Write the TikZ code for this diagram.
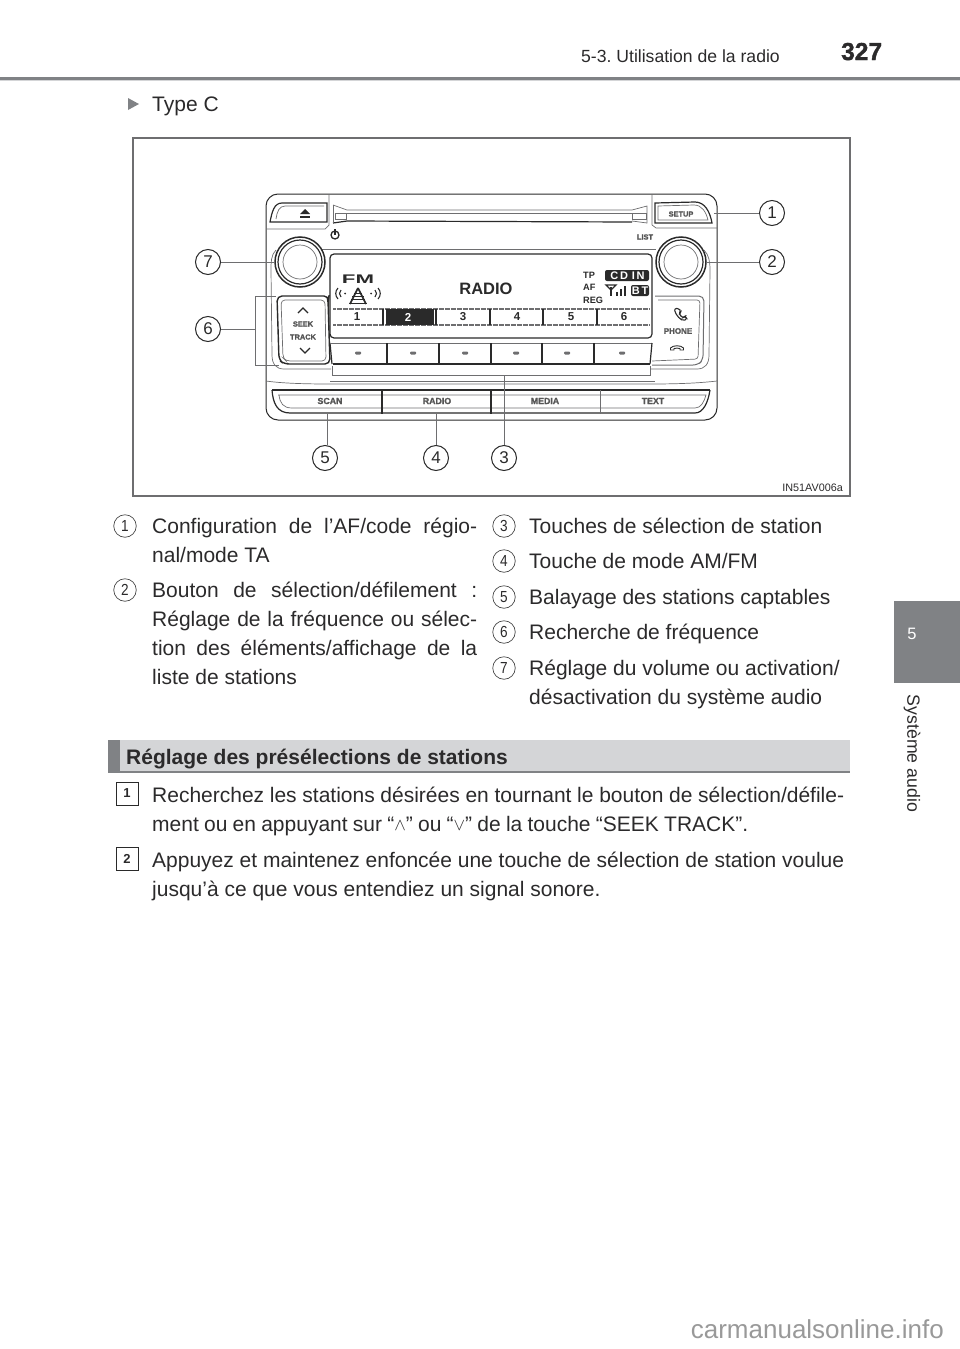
\documentclass[tikz,border=0pt]{standalone}
\usepackage{fontspec}
\setmainfont{Liberation Sans}
\newfontface\heavyface[FakeBold=1.5]{Liberation Sans Bold}
\usepackage{tikz}
\usetikzlibrary{positioning,calc}
\definecolor{inktext}{HTML}{2B2A2B}
\definecolor{tabgray}{HTML}{808285}
\definecolor{barlight}{HTML}{D4D5D7}
\definecolor{linegray}{HTML}{6E6E70}
\definecolor{darkline}{HTML}{2A2A2A}
\newcommand{\bodyfont}{\fontsize{21}{29}\selectfont}
\newcommand{\btnfont}{\fontsize{7.4}{9}\selectfont\heavyface}
\newcommand{\lowerfont}{\fontsize{8.8}{9}\selectfont\heavyface}
\newcommand{\lefthalf}[1]{\makebox[325pt][s]{#1}}
\newcommand{\fullline}[1]{\makebox[692pt][s]{#1}}
\newcommand{\narrowdigit}[1]{\scalebox{.85}[1]{#1}}
\newcommand{\upmark}{\raisebox{1pt}{\fontsize{16}{16}\selectfont$\wedge$}}
\newcommand{\downmark}{\raisebox{1pt}{\fontsize{16}{16}\selectfont$\vee$}}
\tikzset{
  bodytext/.style={anchor=base west,inner sep=0pt,text=inktext,font=\bodyfont},
  callout/.style={circle,draw=darkline,line width=1pt,minimum size=25pt,inner sep=0pt,text=darkline,font=\fontsize{17}{17}\selectfont},
  itemmark/.style={circle,draw=darkline!85,line width=0.7pt,minimum size=22.5pt,inner sep=0pt,text=inktext,font=\fontsize{16}{16}\selectfont},
  stepmark/.style={draw=darkline,line width=0.8pt,minimum width=22pt,minimum height=23pt,inner sep=0pt,text=inktext,font=\fontsize{13}{13}\selectfont\bfseries},
  pointer/.style={draw=linegray,line width=1pt},
  radiothick/.style={draw=darkline,line width=1.2pt},
  radiothin/.style={draw=linegray,line width=0.7pt},
  btnlabel/.style={inner sep=0pt,text=darkline!80,font=\btnfont},
  lowerlabel/.style={inner sep=0pt,text=darkline!80,font=\lowerfont},
  screenlabel/.style={anchor=west,inner sep=0pt,text=darkline,font=\fontsize{9.2}{9}\selectfont\bfseries},
}
\begin{document}
\frenchspacing
\begin{tikzpicture}[x=1pt,y=-1pt]
\useasboundingbox (0,0) rectangle (960,1349);
% page head
\node[anchor=base west,inner sep=0pt,text=inktext,font=\fontsize{17.6}{17}\selectfont] (chapter) at (581,62) {5-3. Utilisation de la radio};
\node[anchor=base west,inner sep=0pt,text=inktext,font=\fontsize{24.5}{24}\selectfont\heavyface] (pageno) at (841,60) {327};
\fill[tabgray] (0,77) rectangle (960,80);
\fill[barlight] (0,80) rectangle (960,81);
\fill[tabgray] (128,98) -- (139,104) -- (128,110) -- cycle;
\node[bodytext] (typec) at (152,111) {Type C};
% side tab
\fill[tabgray] (894,601) rectangle (960,683);
\node[text=white,inner sep=0pt,font=\fontsize{16.5}{16}\selectfont] (tabno) at (912,634) {5};
\node[rotate=-90,inner sep=0pt,text=inktext,font=\fontsize{17.7}{16}\selectfont] (tabname) at (912,753.5) {Système audio};
% figure frame
\draw[draw=linegray,line width=1.1pt] (133,138) rectangle (850,496);
\node[anchor=base east,inner sep=0pt,text=inktext,font=\fontsize{10.8}{11}\selectfont] (figcode) at (843,491) {IN51AV006a};
% radio body
\draw[radiothick,line width=1pt,rounded corners=12pt] (266,194) rectangle (717,420);
\draw[radiothin] (266,229) -- (325,229) -- (329,225) -- (329,194);
\draw[radiothin] (652,194) -- (652,225) -- (656,228) -- (717,228);
\draw[radiothin] (322,249) -- (656,249);
\draw[radiothin] (266,381) .. controls (280,383) and (300,384) .. (330,384) -- (650,384) .. controls (680,384) and (700,383) .. (717,381);
\draw[radiothin] (330,381) -- (655,381);
% eject and slot
\draw[radiothick] (270,222) .. controls (272,212) and (274,203) .. (282,203) -- (327,203) -- (327,222) -- cycle;
\draw[radiothin] (276,219) .. controls (277,212) and (279,206) .. (285,206) -- (324,206);
\fill[darkline] (300,214) -- (305,209) -- (310,214) -- cycle;
\fill[darkline] (300,216) rectangle (310,217.5);
\draw[radiothin] (333,205) -- (347,210) -- (632,210) -- (647,206) -- (647,223) -- (632,221);
\draw[radiothick] (333,223) -- (347,221) -- (632,222);
\draw[radiothin] (333,205) -- (333,223);
\draw[radiothin] (335,213) rectangle (346,219);
\draw[radiothin] (632,213) rectangle (646,219);
\draw[radiothin] (347,213) -- (632,213);
% setup button
\draw[radiothick] (655,203) -- (695,202) .. controls (705,202) and (710,212) .. (712,223) -- (655,223) -- cycle;
\draw[radiothin] (658,206) -- (694,205) .. controls (702,205) and (706,212) .. (708,220) -- (658,220) -- cycle;
\node[btnlabel] (setuplabel) at (681,214) {SETUP};
\node[btnlabel] (listlabel) at (645,237) {LIST};
\draw[darkline,line width=1.3pt] (335,235) circle (4pt);
\draw[darkline,line width=1.3pt] (335,229) -- (335,235);
% knobs
\foreach \kx/\kname in {300/volknob,681/tuneknob}{
  \coordinate (\kname) at (\kx,262);
  \draw[radiothick,line width=1.5pt] (\kname) circle (25pt);
  \draw[radiothick] (\kname) circle (22pt);
  \draw[radiothin] (\kname) circle (17pt);
}
\draw[radiothin] (276,250) .. controls (271,255) and (271,262) .. (271,270) -- (272,355) .. controls (272,364) and (276,369) .. (284,369) -- (331,369);
\draw[radiothin] (704,250) .. controls (709,255) and (710,262) .. (710,270) -- (709,355) .. controls (709,364) and (705,369) .. (697,369) -- (650,369);
% screen
\draw[radiothick,rounded corners=4pt] (330,254) rectangle (652,338);
\node[anchor=base,inner sep=0pt,text=darkline,font=\fontsize{12.5}{12}\selectfont\bfseries,xscale=1.78] (fmlabel) at (358,283.5) {FM};
\draw[darkline,line width=1.6pt] (358,288) -- (350,304);
\draw[darkline,line width=1.6pt] (358,288) -- (366,304);
\foreach \ty/\thalf in {293/4,296/6,299/7,303/9}{
  \draw[darkline,line width=1pt] (358-\thalf,\ty) -- (358+\thalf,\ty);
}
\draw[darkline,line width=1.1pt] (341,290) .. controls (339,292) and (339,295) .. (341,297);
\draw[darkline,line width=1.1pt] (338,288) .. controls (335,291) and (335,296) .. (338,299);
\draw[darkline,line width=1.1pt] (375,290) .. controls (377,292) and (377,295) .. (375,297);
\draw[darkline,line width=1.1pt] (378,288) .. controls (381,291) and (381,296) .. (378,299);
\fill[darkline] (345,293.5) circle (1pt);
\fill[darkline] (371,293.5) circle (1pt);
\node[inner sep=0pt,text=darkline,font=\fontsize{16.5}{16}\selectfont\bfseries] (radiotitle) at (486,289) {RADIO};
\node[screenlabel] (tplabel) at (583,275) {TP};
\node[screenlabel] (aflabel) at (583,287) {AF};
\node[screenlabel] (reglabel) at (583,300) {REG};
\fill[darkline,rounded corners=2pt] (605,270) rectangle (649,281);
\node[inner sep=0pt,text=white,font=\fontsize{11}{10}\selectfont\bfseries] (cdin) at (627.5,275.6) {C\,D\,\,I\,N};
\fill[darkline,rounded corners=2pt] (631,285) rectangle (649,296);
\node[inner sep=0pt,text=white,font=\fontsize{11}{10}\selectfont\bfseries] (btlabel) at (640,290.6) {B\,T};
\draw[darkline,line width=1.3pt] (606,285) -- (611,290) -- (616,285) -- cycle;
\draw[darkline,line width=1.3pt] (611,287) -- (611,296);
\foreach \bx/\btop in {617/292,621/289,625/286}{
  \draw[darkline,line width=1.3pt] (\bx,296) -- (\bx,\btop);
}
\draw[linegray,line width=2pt,dash pattern=on 0.6pt off 0.6pt] (333,309) -- (649,309);
\draw[linegray,line width=2pt,dash pattern=on 0.6pt off 0.6pt] (333,324.5) -- (649,324.5);
\fill[darkline] (386,309) rectangle (434,325);
\foreach \dx in {383,436,490,543,597}{
  \draw[darkline,line width=1.6pt] (\dx,309) -- (\dx,325);
}
\foreach \px/\ptext/\pcol in {357/1/darkline,408/2/white,463/3/darkline,517/4/darkline,571/5/darkline,624/6/darkline}{
  \node[inner sep=0pt,text=\pcol,font=\fontsize{11.5}{11}\selectfont\bfseries] (preset\ptext) at (\px,317) {\ptext};
}
% preset keys
\draw[radiothin] (331,343) -- (652,343);
\draw[radiothick] (333,364) -- (650,364);
\draw[radiothick] (652,343) -- (650,364);
\draw[radiothick] (330,343) -- (332,364);
\foreach \dx in {387,439,491,542,594}{
  \draw[radiothick] (\dx,343) -- (\dx,364);
}
\foreach \mx in {358,413,465,516,567,622}{
  \fill[linegray,rounded corners=1pt] (\mx-3,351.5) rectangle (\mx+3,354.5);
}
% seek and phone keys
\draw[radiothick,line width=1.4pt,rounded corners=5pt] (277,296) -- (329,296) -- (328,300) -- (330,364) -- (284,364) -- (279,360) -- cycle;
\draw[radiothin,rounded corners=4pt] (281,300) -- (325,300) -- (326,361) -- (286,361) -- (283,358) -- cycle;
\draw[darkline,line width=1.3pt] (298,313) -- (303,308) -- (308,313);
\draw[darkline,line width=1.3pt] (300,348) -- (305,353) -- (310,348);
\node[btnlabel] (seeklabel) at (303,324) {SEEK};
\node[btnlabel] (tracklabel) at (303,337) {TRACK};
\draw[radiothin,line width=1pt,rounded corners=5pt] (655,296) -- (704,296) -- (703,360) -- (698,365) -- (652,365);
\draw[radiothin,rounded corners=3pt] (658,300) -- (700,300) -- (698,359) -- (652,361);
\draw[darkline,line width=1.1pt,rounded corners=2pt] (674,309) -- (679,308) -- (681,312) -- (679,314) -- (683,318) -- (685,316) -- (687,319) -- (683,321) -- (677,316) -- cycle;
\node[btnlabel,font=\fontsize{8}{9}\selectfont\heavyface] (phonelabel) at (678,331) {PHONE};
\draw[darkline,line width=0.9pt] (670.5,350) -- (670.5,348) .. controls (673,345) and (681,345) .. (683.5,348) -- (683.5,350) -- (680,350) -- (680,348.5) .. controls (678,348) and (676,348) .. (674,348.5) -- (674,350) -- cycle;
% lower keys
\draw[radiothick] (272,390) -- (710,390);
\draw[radiothick] (272,390) .. controls (273,403) and (277,413) .. (290,413) -- (695,413) .. controls (703,413) and (708,403) .. (710,390);
\draw[radiothin] (279,395) .. controls (280,403) and (283,408) .. (292,408) -- (695,408) .. controls (701,408) and (704,402) .. (706,395) -- (278,395);
\draw[radiothick] (382,390) -- (382,414);
\draw[radiothick] (491,390) -- (491,414);
\draw[radiothin,line width=1pt] (600,390) -- (600,414);
\foreach \lx/\ltext in {330/SCAN,437/RADIO,545/MEDIA,653/TEXT}{
  \node[lowerlabel] (key\ltext) at (\lx,401) {\ltext};
}
% bracket for the preset keys
\coordinate (bracketl) at (332,375);
\coordinate (bracketr) at (650,375);
\draw[pointer,line width=0.8pt] (332,366) -- (bracketl) -- (bracketr) -- (650,366);
% callouts
\foreach \cx/\cy/\cnum in {772/213/1,772/262/2,504/458/3,436/458/4,325/458/5,208/329/6,208/262/7}{
  \node[callout] (call\cnum) at (\cx,\cy) {\cnum};
}
\coordinate (setupend) at (714,213);
\coordinate (tuneend) at (706,262);
\coordinate (volend) at (275,262);
\coordinate (seekmid) at (255,329);
\coordinate (seektop) at (255,296);
\coordinate (seekbot) at (255,365);
\coordinate (seektopr) at (276,296);
\coordinate (seekbotr) at (279,365);
\coordinate (stem3) at (504,375);
\coordinate (stem4) at (436,414);
\coordinate (stem5) at (327,414);
\draw[pointer] (call1) -- (setupend);
\draw[pointer] (call2) -- (tuneend);
\draw[pointer] (call7) -- (volend);
\draw[pointer] (call6) -- (seekmid);
\draw[pointer] (seektopr) -- (seektop) -- (seekbot) -- (seekbotr);
\draw[pointer] (call3) -- (stem3);
\draw[pointer] (call4) -- (stem4);
\draw[pointer] (call5.north -| stem5) -- (stem5);
% item list
\foreach \mx/\my/\mnum in {125/526/1,125/590/2,504/526/3,504/561/4,504/597/5,504/632/6,504/668/7}{
  \node[itemmark] (item\mnum) at (\mx,\my) {\narrowdigit{\mnum}};
}
\foreach \ly/\ltext in {533/{\lefthalf{Configuration de l’AF/code régio-}},562/{nal/mode TA},597/{\lefthalf{Bouton de sélection/défilement :}},626/{\lefthalf{Réglage de la fréquence ou sélec-}},655/{\lefthalf{tion des éléments/affichage de la}},684/{liste de stations}}{
  \node[bodytext] (left\ly) at (152,\ly) {\ltext};
}
\foreach \ly/\ltext in {533/{Touches de sélection de station},568/{Touche de mode AM/FM},604/{Balayage des stations captables},639/{Recherche de fréquence},675/{Réglage du volume ou activation/},704/{désactivation du système audio}}{
  \node[bodytext] (right\ly) at (529,\ly) {\ltext};
}
% preset section
\fill[barlight] (108,740) rectangle (850,771);
\fill[tabgray] (108,740) rectangle (120,773);
\fill[tabgray] (108,771) rectangle (850,773);
\node[anchor=base west,inner sep=0pt,text=inktext,font=\fontsize{21}{20}\selectfont\bfseries] (sectitle) at (126,764) {Réglage des présélections de stations};
\node[stepmark] (step1) at (127,793.5) {1};
\node[stepmark] (step2) at (127,858.5) {2};
\node[bodytext] (steptext1) at (152,802) {\fullline{Recherchez les stations désirées en tournant le bouton de sélection/défile-}};
\node[bodytext] (steptext2) at (152,831) {\makebox[596pt][s]{ment ou en appuyant sur “\upmark” ou “\downmark” de la touche “SEEK TRACK”.}};
\node[bodytext] (steptext3) at (152,867) {\fullline{Appuyez et maintenez enfoncée une touche de sélection de station voulue}};
\node[bodytext] (steptext4) at (152,896) {jusqu’à ce que vous entendiez un signal sonore.};
% site mark
\node[anchor=base east,inner sep=0pt,text=black!40,font=\fontsize{26}{26}\selectfont] (sitemark) at (944,1338) {carmanualsonline.info};
\end{tikzpicture}
\end{document}
